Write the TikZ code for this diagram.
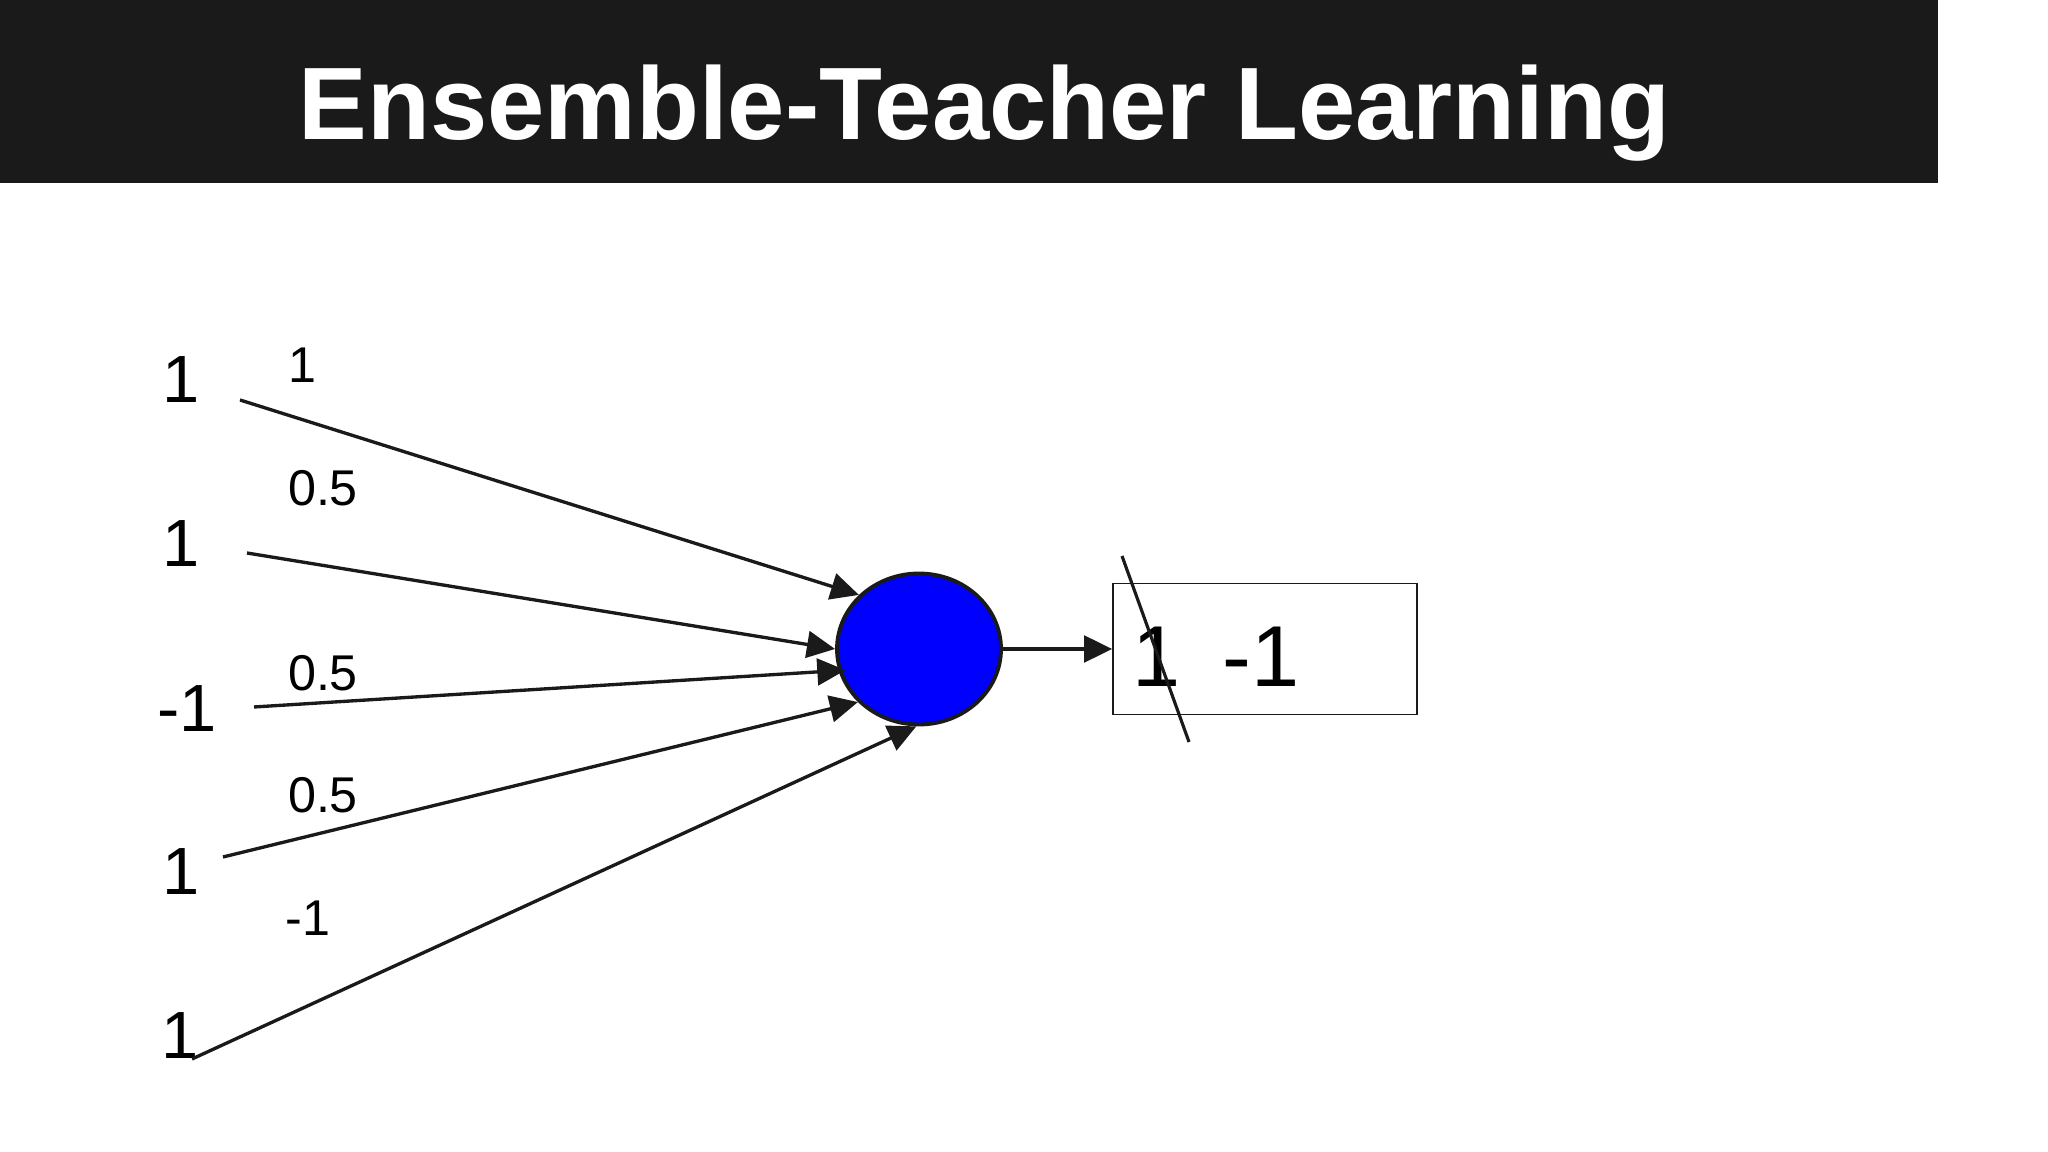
\documentclass[tikz,border=0pt]{standalone}
\usepackage{fontspec}
\setmainfont{Liberation Sans}
\usepackage{xcolor}
\usetikzlibrary{shapes.geometric, arrows.meta}
\definecolor{barblack}{HTML}{1A1A1A}
\definecolor{inkgray}{HTML}{1A1A1A}
\definecolor{neuronblue}{HTML}{0000FF}

\begin{document}
\begin{tikzpicture}[x=0.1mm, y=-0.1mm,
  edge/.style={draw=inkgray, line width=0.95pt, -{Triangle[length=8pt, width=7.6pt]}},
  inval/.style={anchor=base, inner sep=0, font=\fontsize{19}{19}\selectfont},
  wval/.style={anchor=base, inner sep=0, font=\fontsize{14.3}{14.3}\selectfont}]
\useasboundingbox (0,0) rectangle (2048,1152);

% title bar
\fill[barblack] (0,0) rectangle (1938,183);
\node[anchor=base west, inner sep=0, text=white, font=\fontsize{29.3}{30}\selectfont\bfseries] (title) at (298,140) {Ensemble-Teacher Learning};

% neuron and output box
\node[ellipse, draw=inkgray, line width=1.1pt, fill=neuronblue, minimum width=16.4mm, minimum height=15.1mm, inner sep=0] (neuron) at (919,649) {};
\node[draw=inkgray, line width=0.5pt, minimum width=30.4mm, minimum height=13.1mm, inner sep=0] (result) at (1265,649) {};
\node[anchor=base, inner sep=0, font=\fontsize{24.6}{25}\selectfont] (oldout) at (1157,687) {1};
\node[anchor=base, inner sep=0, font=\fontsize{24.6}{25}\selectfont] (newout) at (1261,687) {-1};
\draw[edge] (neuron.east) -- (result.west);

% crossed out value
\coordinate (strikeA) at (1122,556);
\coordinate (strikeB) at (1189,742);
\draw[inkgray, line width=0.9pt] (strikeA) -- (strikeB);

% inputs
\node[inval] (x1) at (181,403) {1};
\node[inval] (x2) at (181,567) {1};
\node[inval] (x3) at (187,732) {-1};
\node[inval] (x4) at (181,895) {1};
\node[inval] (x5) at (180,1058) {1};

% weights
\node[wval] (w1) at (302,383) {1};
\node[wval] (w2) at (323,506) {0.5};
\node[wval] (w3) at (323,691) {0.5};
\node[wval] (w4) at (323,813) {0.5};
\node[wval] (w5) at (308,936) {-1};

\coordinate (in1) at (240,400);
\coordinate (in2) at (247,553);
\coordinate (in3) at (254,707);
\coordinate (in4) at (223,857);
\coordinate (in5) at (192,1059);

\draw[edge] (in1) -- (neuron.138.2);
\draw[edge] (in2) -- (neuron.180);
\draw[edge, shorten >=-2pt] (in3) -- (neuron.195);
\draw[edge] (in4) -- (neuron.221.8);
\draw[edge] (in5) -- (neuron.268.5);
\end{tikzpicture}
\end{document}
